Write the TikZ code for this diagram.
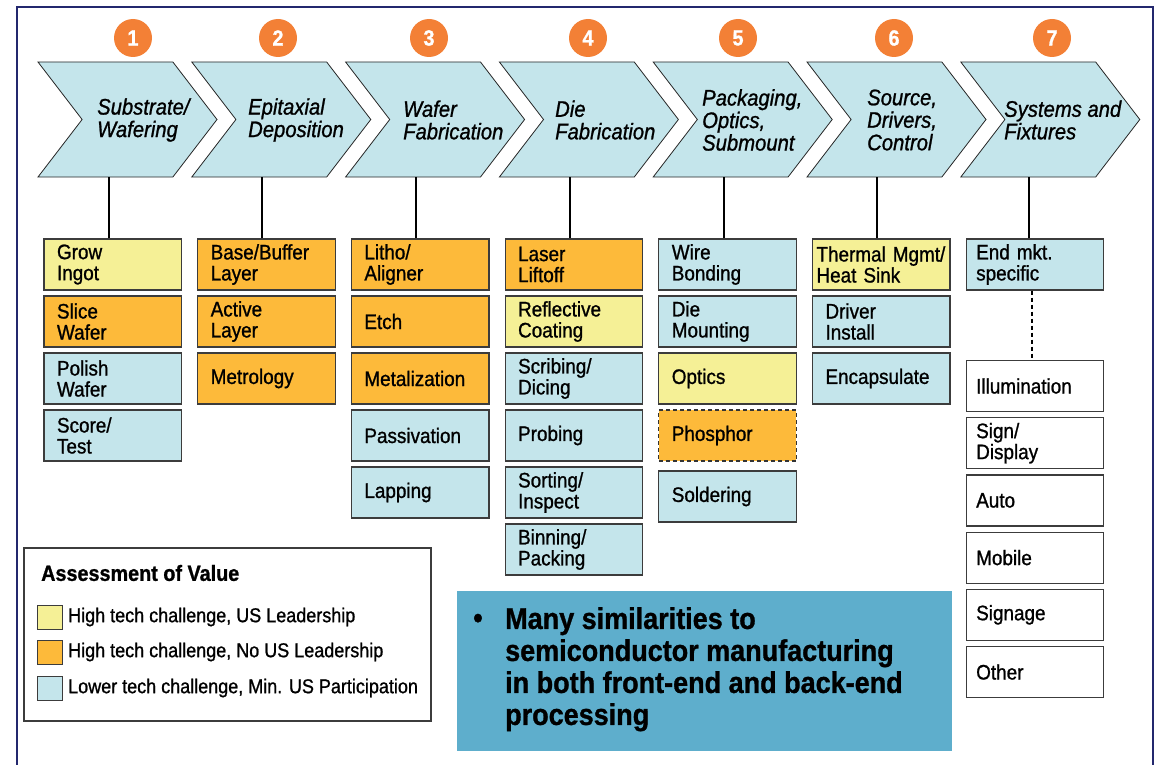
\documentclass[tikz,border=0pt]{standalone}
\usepackage{fontspec}
\setmainfont{Liberation Sans}[FakeStretch=0.9, FakeBold=1.0]
\usepackage{xcolor}
\usetikzlibrary{shapes.symbols,positioning}

\definecolor{paleblue}{RGB}{196,229,235}
\definecolor{paleyellow}{RGB}{245,240,150}
\definecolor{amber}{RGB}{253,186,58}
\definecolor{badgeorange}{RGB}{243,128,54}
\definecolor{notefill}{RGB}{94,174,204}
\definecolor{framecol}{RGB}{35,40,110}
\definecolor{edge}{RGB}{60,60,60}

\begin{document}
\begin{tikzpicture}[
  x=1pt, y=-1pt,
  chev/.style={signal, signal from=west, signal to=east, signal pointer angle=105,
    draw=black!85, line width=0.8pt, fill=paleblue,
    minimum width=179pt, minimum height=115pt, inner sep=0pt},
  chevtext/.style={anchor=west, align=left, inner sep=0pt,
    font=\fontsize{22.5}{22.5}\selectfont\itshape},
  badge/.style={circle, fill=badgeorange, text=white, minimum size=38pt,
    inner sep=0pt, font=\fontsize{22}{22}\selectfont\bfseries},
  cell/.style={draw=edge, line width=1.2pt, minimum width=137.5pt,
    minimum height=51pt, text width=111.5pt, inner xsep=13pt, inner ysep=0pt,
    align=left, font=\fontsize{21}{21}\selectfont},
  usleads/.style={cell, fill=paleyellow},
  nolead/.style={cell, fill=amber},
  lowtech/.style={cell, fill=paleblue},
  market/.style={cell, fill=white, text width=117.5pt, inner xsep=10pt},
  link/.style={line width=2pt},
  swatch/.style={draw=edge, line width=1pt, minimum width=25pt,
    minimum height=24pt, inner sep=0pt},
  keytext/.style={anchor=west, inner sep=0pt, font=\fontsize{20}{20}\selectfont},
]
\useasboundingbox (0,0) rectangle (1156,765);

%% Frame
\draw[framecol, line width=2pt] (17,765) -- (17,7) -- (1153,7) -- (1153,765);

%% Process chevrons and step badges
\node[chev] (c1) at (127.5,119.5) {};
\node[chev] (c2) at (281.3,119.5) {};
\node[chev] (c3) at (435.1,119.5) {};
\node[chev] (c4) at (588.9,119.5) {};
\node[chev] (c5) at (742.7,119.5) {};
\node[chev] (c6) at (896.5,119.5) {};
\node[chev] (c7) at (1050.3,119.5) {};

\node[chevtext] (lab1) at (97,120) {Substrate/\\Wafering};
\node[chevtext] (lab2) at (248,120) {Epitaxial\\Deposition};
\node[chevtext] (lab3) at (403,120) {Wafer\\Fabrication};
\node[chevtext] (lab4) at (555,120) {Die\\Fabrication};
\node[chevtext] (lab5) at (702,120) {Packaging,\\Optics,\\Submount};
\node[chevtext] (lab6) at (867,120) {Source,\\Drivers,\\Control};
\node[chevtext] (lab7) at (1004,120) {Systems and\\Fixtures};

\node[badge] (n1) at (133,38) {1};
\node[badge] (n2) at (278,38) {2};
\node[badge] (n3) at (429,38) {3};
\node[badge] (n4) at (588,38) {4};
\node[badge] (n5) at (738,38) {5};
\node[badge] (n6) at (894,38) {6};
\node[badge] (n7) at (1052,38) {7};

%% Column 1
\node[usleads] (grow)   at (112.75,264.5) {Grow\\Ingot};
\node[nolead]  (slice)  at (112.75,321.5) {Slice\\Wafer};
\node[lowtech] (polish) at (112.75,378.5) {Polish\\Wafer};
\node[lowtech] (score)  at (112.75,435.5) {Score/\\Test};

%% Column 2
\node[nolead] (buffer) at (266.45,264.5) {Base/Buffer\\Layer};
\node[nolead] (active) at (266.45,321.5) {Active\\Layer};
\node[nolead] (metro)  at (266.45,378.5) {Metrology};

%% Column 3
\node[nolead]  (litho)  at (420.15,264.5) {Litho/\\Aligner};
\node[nolead]  (etch)   at (420.15,321.5) {Etch};
\node[nolead]  (metal)  at (420.15,378.5) {Metalization};
\node[lowtech] (passiv) at (420.15,435.5) {Passivation};
\node[lowtech] (lapping) at (420.15,492.5) {Lapping};

%% Column 4
\node[nolead]  (laser)   at (573.85,264.5) {Laser\\Liftoff};
\node[usleads] (reflect) at (573.85,321.5) {Reflective\\Coating};
\node[lowtech] (scribe)  at (573.85,378.5) {Scribing/\\Dicing};
\node[lowtech] (probe)   at (573.85,435.5) {Probing};
\node[lowtech] (sort)    at (573.85,492.5) {Sorting/\\Inspect};
\node[lowtech] (bin)     at (573.85,549.5) {Binning/\\Packing};

%% Column 5
\node[lowtech] (wire)     at (727.55,264.5) {Wire\\Bonding};
\node[lowtech] (diemount) at (727.55,321.5) {Die\\Mounting};
\node[usleads] (optics)   at (727.55,378.5) {Optics};
\node[nolead, dash pattern=on 4pt off 3pt, draw=black!80] (phosphor) at (727.55,435.5) {Phosphor};
\node[lowtech] (solder)   at (727.55,496.5) {Soldering};

%% Column 6
\node[usleads, text width=129.5pt, inner xsep=4pt] (thermal) at (881.25,264.5) {Thermal Mgmt/\\Heat Sink};
\node[lowtech] (driver)  at (881.25,321.5) {Driver\\Install};
\node[lowtech] (encap)   at (881.25,378.5) {Encapsulate};

%% Column 7
\node[lowtech, text width=117.5pt, inner xsep=10pt] (endmkt) at (1034.95,264.5) {End mkt.\\specific};
\node[market] (illum)   at (1034.95,386) {Illumination};
\node[market] (sign)    at (1034.95,443.2) {Sign/\\Display};
\node[market] (auto)    at (1034.95,500.4) {Auto};
\node[market] (mobile)  at (1034.95,557.6) {Mobile};
\node[market] (signage) at (1034.95,614.8) {Signage};
\node[market] (other)   at (1034.95,672) {Other};

%% Connectors
\draw[link] ([xshift=-4pt]grow.north)    -- ([xshift=-4pt]grow.north |- c1.south);
\draw[link] ([xshift=-4pt]buffer.north)  -- ([xshift=-4pt]buffer.north |- c2.south);
\draw[link] ([xshift=-4pt]litho.north)   -- ([xshift=-4pt]litho.north |- c3.south);
\draw[link] ([xshift=-4pt]laser.north)   -- ([xshift=-4pt]laser.north |- c4.south);
\draw[link] ([xshift=-4pt]wire.north)    -- ([xshift=-4pt]wire.north |- c5.south);
\draw[link] ([xshift=-4pt]thermal.north) -- ([xshift=-4pt]thermal.north |- c6.south);
\draw[link] ([xshift=-6pt]endmkt.north)  -- ([xshift=-6pt]endmkt.north |- c7.south);
\draw[link, dash pattern=on 4pt off 3pt] ([xshift=-3pt]endmkt.south) -- ([xshift=-3pt]illum.north);

%% Legend
\draw[edge, line width=1.2pt] (24,548) rectangle (431,721);
\node[anchor=west, inner sep=0pt, font=\fontsize{22}{22}\selectfont\bfseries] (keytitle) at (41,573) {Assessment of Value};
\node[swatch, fill=paleyellow] (key1) at (49.5,617) {};
\node[swatch, fill=amber]      (key2) at (49.5,652) {};
\node[swatch, fill=paleblue]   (key3) at (49.5,688) {};
\node[keytext] (keytext1) at (68,617) {High tech challenge, US Leadership};
\node[keytext] (keytext2) at (68,652) {High tech challenge, No US Leadership};
\node[keytext] (keytext3) at (68,688) {Lower tech challenge, Min. US Participation};

%% Summary note
\fill[notefill] (457,591) rectangle (952,751);
\node[anchor=base, inner sep=0pt, font=\fontsize{30}{32}\selectfont\bfseries] (bullet) at (478,628) {\textbullet};
\node[anchor=north west, align=left, inner sep=0pt, font=\fontsize{30}{32}\selectfont\bfseries]
  (summary) at (505,607) {Many similarities to\\semiconductor manufacturing\\in both front-end and back-end\\processing};

\end{tikzpicture}
\end{document}
